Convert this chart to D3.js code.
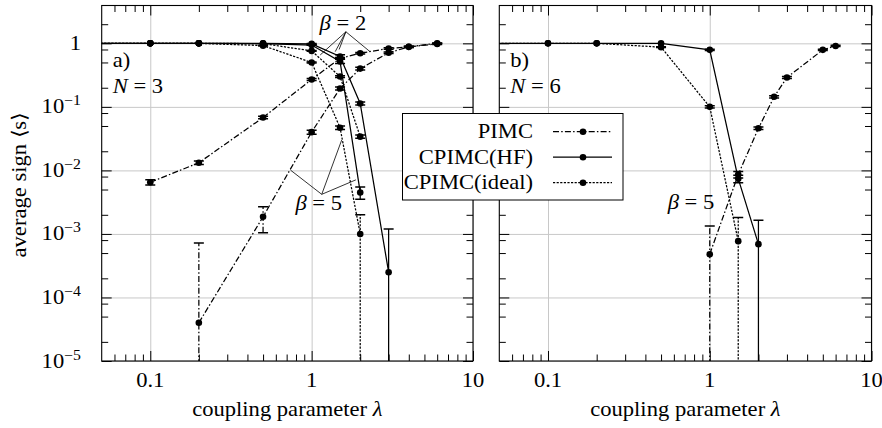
<!DOCTYPE html>
<html>
<head>
<meta charset="utf-8">
<script src="https://d3js.org/d3.v7.min.js"></script>
<style>
body { margin: 0; background: #fff; }
</style>
</head>
<body>
<svg id="chart" width="882" height="428"></svg>
<script>
// ---- panel a) N = 3 ----
const a_pimc2_lam = [0.1, 0.2, 0.5, 1, 1.5, 2, 3, 4, 6];
const a_pimc2_s   = [0.0065, 0.0132, 0.068, 0.27, 0.58, 0.70, 0.83, 0.88, 1.0];
const a_pimc2_err = [0.0006, 0.0008, 0.003, 0.01, 0.02, 0.02, 0.02, 0.02, 0.01];

const a_pimc5_lam = [0.2, 0.5, 1, 1.5, 2, 3, 4, 6];
const a_pimc5_s   = [4e-5, 1.86e-3, 0.040, 0.195, 0.40, 0.71, 0.88, 0.98];
const a_pimc5_err = [6.8e-4, 8.2e-4, 0.003, 0.01, 0.02, 0.02, 0.02, 0.02];

const a_hf2_lam = [0.01, 0.1, 0.2, 0.5, 1, 1.5, 2, 3];
const a_hf2_s   = [1, 1, 1, 1, 0.98, 0.62, 0.113, 2.5e-4];
const a_hf2_err = [0, 0, 0, 0, 0.01, 0.04, 0.006, 9.5e-4];

const a_hf5_lam = [0.01, 0.1, 0.2, 0.5, 1, 1.5, 2];
const a_hf5_s   = [1, 1, 1, 0.99, 0.94, 0.52, 4.5e-3];
const a_hf5_err = [0, 0, 0, 0, 0.01, 0.04, 1e-3];

const a_id2_lam = [0.01, 0.1, 0.2, 0.5, 1, 1.5, 2];
const a_id2_s   = [1, 1, 1, 0.99, 0.76, 0.30, 0.034];
const a_id2_err = [0, 0, 0, 0, 0.01, 0.01, 0.002];

const a_id5_lam = [0.01, 0.1, 0.2, 0.5, 1, 1.5, 2];
const a_id5_s   = [1, 1, 1, 0.92, 0.50, 0.047, 1.0e-3];
const a_id5_err = [0, 0, 0, 0.01, 0.01, 0.003, 1.0e-3];

// ---- panel b) N = 6 ----
const b_pimc_lam = [1, 1.5, 2, 2.5, 3, 5, 6];
const b_pimc_s   = [4.8e-4, 8.6e-3, 0.046, 0.144, 0.29, 0.79, 0.91];
const b_pimc_err = [8.5e-4, 1e-3, 0.002, 0.006, 0.01, 0.02, 0.02];

const b_hf_lam = [0.01, 0.1, 0.2, 0.5, 1, 1.5, 2];
const b_hf_s   = [1, 1, 1, 1, 0.79, 7.4e-3, 6.9e-4];
const b_hf_err = [0, 0, 0, 0, 0.02, 1e-3, 9.5e-4];

const b_id_lam = [0.01, 0.1, 0.2, 0.5, 1, 1.5];
const b_id_s   = [1, 1, 1, 0.87, 0.10, 7.7e-4];
const b_id_err = [0, 0, 0, 0.01, 0.004, 1.05e-3];

// ticks and labels
const xMajor = [0.1, 1, 10];
const xLabels = ['0.1', '1', '10'];
const yExp = [0, -1, -2, -3, -4, -5];
const legendNames = ['PIMC', 'CPIMC(HF)', 'CPIMC(ideal)'];

const dashes = { pimc: '6,2.2,1.5,2.2', hf: null, ideal: '2.2,1.4' };
const FONT = 'Liberation Serif';

function makeSeries(lam, s, err) {
  return lam.map((l, i) => ({ l: l, s: s[i], e: err[i] }));
}

const panels = [
  { x0: 101.7, x1: 473, tag: 'a)', N: '3',
    series: [
      { st: 'pimc', d: makeSeries(a_pimc2_lam, a_pimc2_s, a_pimc2_err) },
      { st: 'pimc', d: makeSeries(a_pimc5_lam, a_pimc5_s, a_pimc5_err) },
      { st: 'hf', d: makeSeries(a_hf2_lam, a_hf2_s, a_hf2_err) },
      { st: 'hf', d: makeSeries(a_hf5_lam, a_hf5_s, a_hf5_err) },
      { st: 'ideal', d: makeSeries(a_id2_lam, a_id2_s, a_id2_err) },
      { st: 'ideal', d: makeSeries(a_id5_lam, a_id5_s, a_id5_err) }
    ],
    notes: [
      { text: '2', apex: [1.63, 1.52], ends: [[1.13, 0.655], [1.40, 0.74], [1.48, 0.80], [2.30, 0.74]], dx: -3, dy: -2 },
      { text: '5', apex: [1.155, 4.2e-3], ends: [[0.74, 0.0101], [1.535, 0.030], [1.88, 7.1e-3]], dx: -3, dy: 16 }
    ] },
  { x0: 499.3, x1: 871.5, tag: 'b)', N: '6',
    series: [
      { st: 'pimc', d: makeSeries(b_pimc_lam, b_pimc_s, b_pimc_err) },
      { st: 'hf', d: makeSeries(b_hf_lam, b_hf_s, b_hf_err) },
      { st: 'ideal', d: makeSeries(b_id_lam, b_id_s, b_id_err) }
    ],
    notes: [
      { text: '5', apex: [0.765, 4.3e-3], ends: [], dx: 0, dy: 15 }
    ] }
];

const svg = d3.select('#chart');
const yTop = 5.5, yBot = 361;
const y = d3.scaleLog().domain([1e-5, 3.94]).range([yBot, yTop]);
const yMajor = yExp.map(e => Math.pow(10, e));
const yMinor = [];
for (let k = -5; k <= 0; k++) [2, 5, 8].forEach(m => { const v = m * Math.pow(10, k); if (v < 3.94) yMinor.push(v); });
const xMinor = [];
for (let k = -2; k <= 0; k++) for (let m = 2; m <= 9; m++) { const v = m * Math.pow(10, k); if (v > 0.05 && v < 10) xMinor.push(v); }

// text helper: slightly widened serif to mimic Computer Modern proportions
function label(parent, px, py, rot, size, anchor) {
  return parent.append('g')
    .attr('transform', `translate(${px},${py}) rotate(${rot}) scale(1.13,1)`)
    .append('text')
    .attr('font-family', FONT)
    .attr('font-size', size)
    .attr('fill', '#000')
    .attr('text-anchor', anchor);
}

function noDomain(s) { s.select('.domain').remove(); }

panels.forEach((p, pi) => {
  const x = d3.scaleLog().domain([0.05, 10]).range([p.x0, p.x1]);
  const w = p.x1 - p.x0, h = yBot - yTop;
  const g = svg.append('g');

  g.append('clipPath').attr('id', 'clip' + pi)
    .append('rect').attr('x', p.x0).attr('y', yTop).attr('width', w).attr('height', h);

  // grid
  g.append('g').attr('transform', `translate(0,${yBot})`)
    .call(d3.axisBottom(x).tickValues(xMajor).tickSize(-h).tickFormat(''))
    .call(noDomain)
    .selectAll('line').attr('stroke', '#c8c8c8').attr('stroke-width', 1);
  g.append('g').attr('transform', `translate(${p.x0},0)`)
    .call(d3.axisLeft(y).tickValues(yMajor).tickSize(-w).tickFormat(''))
    .call(noDomain)
    .selectAll('line').attr('stroke', '#c8c8c8').attr('stroke-width', 1);

  // data
  const dg = g.append('g').attr('clip-path', `url(#clip${pi})`);
  const line = d3.line().x(d => x(d.l)).y(d => y(d.s));
  p.series.forEach(sr => {
    const dash = dashes[sr.st];
    dg.append('path').datum(sr.d)
      .attr('d', line)
      .attr('fill', 'none').attr('stroke', '#000').attr('stroke-width', 1.25)
      .attr('stroke-dasharray', dash);
    const eb = sr.d.filter(d => d.e > 0);
    dg.selectAll(null).data(eb).enter().append('line')
      .attr('x1', d => x(d.l)).attr('x2', d => x(d.l))
      .attr('y1', d => y(Math.max(d.s - d.e, 1e-9))).attr('y2', d => y(d.s + d.e))
      .attr('stroke', '#000').attr('stroke-width', 1.25)
      .attr('stroke-dasharray', dash);
    [d => d.s + d.e, d => d.s - d.e].forEach(f => {
      dg.selectAll(null).data(eb.filter(d => f(d) > 0)).enter().append('line')
        .attr('x1', d => x(d.l) - 5).attr('x2', d => x(d.l) + 5)
        .attr('y1', d => y(f(d))).attr('y2', d => y(f(d)))
        .attr('stroke', '#000').attr('stroke-width', 1.5);
    });
    dg.selectAll(null).data(sr.d).enter().append('circle')
      .attr('cx', d => x(d.l)).attr('cy', d => y(d.s)).attr('r', 3.3)
      .attr('fill', '#000');
  });

  // frame and ticks
  g.append('rect').attr('x', p.x0).attr('y', yTop).attr('width', w).attr('height', h)
    .attr('fill', 'none').attr('stroke', '#000').attr('stroke-width', 1.1);
  const tickAxes = [
    [d3.axisBottom, x, `translate(0,${yBot})`, xMajor, xMinor],
    [d3.axisTop, x, `translate(0,${yTop})`, xMajor, xMinor],
    [d3.axisLeft, y, `translate(${p.x0},0)`, yMajor, yMinor],
    [d3.axisRight, y, `translate(${p.x1},0)`, yMajor, yMinor]
  ];
  tickAxes.forEach(([ax, sc, tr, maj, min]) => {
    g.append('g').attr('transform', tr)
      .call(ax(sc).tickValues(maj).tickSize(-10).tickFormat('')).call(noDomain)
      .selectAll('line').attr('stroke', '#000').attr('stroke-width', 1);
    g.append('g').attr('transform', tr)
      .call(ax(sc).tickValues(min).tickSize(-6.5).tickFormat('')).call(noDomain)
      .selectAll('line').attr('stroke', '#000').attr('stroke-width', 1);
  });

  // tick labels
  xMajor.forEach((v, i) => {
    label(g, x(v), 387, 0, 20, 'middle').text(xLabels[i]);
  });
  if (pi === 0) {
    yExp.forEach(e => {
      const t = label(g, 81, y(Math.pow(10, e)) + 6.5, 0, 20, 'end');
      if (e === 0) { t.text('1'); return; }
      t.append('tspan').text('10');
      t.append('tspan').attr('dy', -8).attr('font-size', 14).text('\u2212' + (-e));
    });
    const yl = label(g, 26, 185, -90, 20, 'middle');
    yl.text('average sign \u27E8s\u27E9');
  }

  // axis title
  const xl = label(g, (p.x0 + p.x1) / 2, 416, 0, 20, 'middle');
  xl.append('tspan').text('coupling parameter ');
  xl.append('tspan').attr('font-style', 'italic').text('\u03BB');

  // panel tags
  label(g, p.x0 + 11, 67, 0, 20, 'start').text(p.tag);
  const nt = label(g, p.x0 + 11, 93, 0, 20, 'start');
  nt.append('tspan').attr('font-style', 'italic').text('N');
  nt.append('tspan').text(' = ' + p.N);

  // beta annotations
  p.notes.forEach(n => {
    const ax = x(n.apex[0]), ay = y(n.apex[1]);
    n.ends.forEach(e => {
      g.append('line').attr('x1', ax).attr('y1', ay).attr('x2', x(e[0])).attr('y2', y(e[1]))
        .attr('stroke', '#000').attr('stroke-width', 0.8);
    });
    const bt = label(g, ax + n.dx, ay + n.dy, 0, 20, 'middle');
    bt.append('tspan').attr('font-style', 'italic').text('\u03B2');
    bt.append('tspan').text(' = ' + n.text);
  });
});

// legend
const lg = svg.append('g');
lg.append('rect').attr('x', 402.5).attr('y', 113.5).attr('width', 220.5).attr('height', 86.5)
  .attr('fill', '#fff').attr('stroke', '#000').attr('stroke-width', 1);
['pimc', 'hf', 'ideal'].forEach((k, i) => {
  const cy = 131.7 + i * 25.5;
  label(lg, 533, cy + 6.5, 0, 20, 'end').text(legendNames[i]);
  lg.append('line').attr('x1', 553).attr('x2', 612).attr('y1', cy).attr('y2', cy)
    .attr('stroke', '#000').attr('stroke-width', 1.25).attr('stroke-dasharray', dashes[k]);
  lg.append('circle').attr('cx', 583).attr('cy', cy).attr('r', 3.3).attr('fill', '#000');
});
</script>
</body>
</html>
